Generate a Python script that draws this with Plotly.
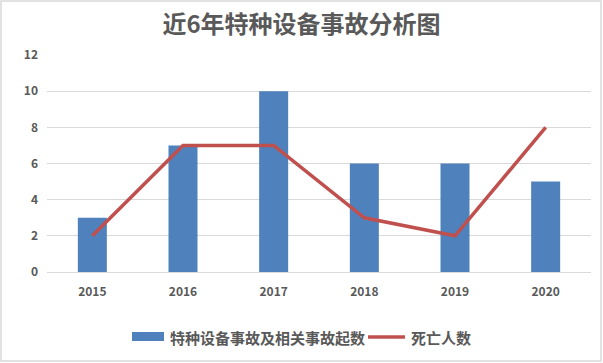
import plotly.graph_objects as go

years = ["2015", "2016", "2017", "2018", "2019", "2020"]
accidents = [3, 7, 10, 6, 6, 5]
deaths = [2, 7, 7, 3, 2, 8]
yticks = [0, 2, 4, 6, 8, 10, 12]
series_names = ["特种设备事故及相关事故起数", "死亡人数"]
colors = ["#4F81BD", "#C0504D"]

W, H = 603, 363
L, R, T, B = 47, 12, 55, 91
pw, ph = W - L - R, H - T - B

def px(x):
    return (x - L) / pw

def py(y):
    return (H - B - y) / ph

font = "Noto Sans CJK SC, sans-serif"
grey = "#595959"
fig = go.Figure()
fig.add_trace(go.Bar(x=years, y=accidents, name=series_names[0],
                     marker=dict(color=colors[0], line=dict(width=0)), width=0.32))
fig.add_trace(go.Scatter(x=years, y=deaths, name=series_names[1], mode="lines",
                         line=dict(color=colors[1], width=3.5)))

shapes = [
    dict(type="rect", xref="paper", yref="paper", x0=px(1), x1=px(601), y0=py(361), y1=py(1),
         line=dict(color="#D9D9D9", width=1.5), fillcolor="rgba(0,0,0,0)", layer="below"),
    # legend keys
    dict(type="rect", xref="paper", yref="paper", x0=px(132), x1=px(164), y0=py(341), y1=py(332),
         line=dict(width=0), fillcolor=colors[0]),
    dict(type="line", xref="paper", yref="paper", x0=px(368), x1=px(405), y0=py(337), y1=py(337),
         line=dict(color=colors[1], width=3.5)),
]
annotations = [
    dict(text="<b>" + series_names[0] + "</b>", xref="paper", yref="paper", x=px(168), y=py(337),
         xanchor="left", yanchor="middle", showarrow=False, font=dict(family=font, size=15, color=grey)),
    dict(text="<b>" + series_names[1] + "</b>", xref="paper", yref="paper", x=px(409), y=py(337),
         xanchor="left", yanchor="middle", showarrow=False, font=dict(family=font, size=15, color=grey)),
]

fig.update_layout(
    width=W, height=H,
    margin=dict(l=L, r=R, t=T, b=B),
    paper_bgcolor="white", plot_bgcolor="white",
    title=dict(text="<b>近6年特种设备事故分析图</b>", x=0.5, xanchor="center",
               y=1 - 25 / H, yanchor="middle",
               font=dict(family=font, size=24, color=grey)),
    xaxis=dict(showgrid=False, showline=False, ticks="", automargin=False,
               tickvals=years, ticktext=["<b>" + y + "</b>" for y in years],
               tickfont=dict(family=font, size=12, color=grey), ticklabelstandoff=11),
    yaxis=dict(range=[0, 12], tickvals=yticks, ticktext=["<b>" + str(v) + "</b>" for v in yticks],
               showgrid=True, gridcolor="#D9D9D9", gridwidth=1, automargin=False,
               zeroline=True, zerolinecolor="#D9D9D9", zerolinewidth=1, showline=False,
               tickfont=dict(family=font, size=12, color=grey), ticklabelstandoff=8),
    bargap=0.68, showlegend=False,
    shapes=shapes, annotations=annotations,
)
fig.write_html("out.html", config={"displayModeBar": False},
               post_script="document.body.style.margin='0';")
